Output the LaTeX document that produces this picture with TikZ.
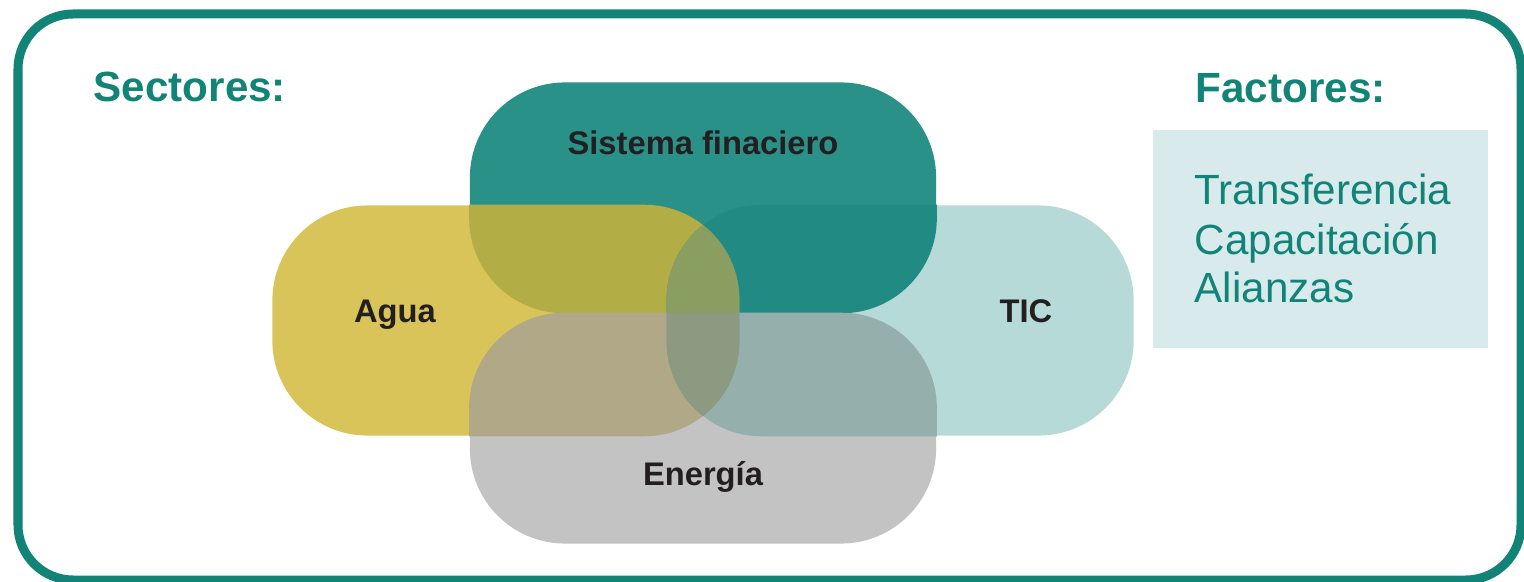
\documentclass[tikz,border=0pt]{standalone}
\usepackage{fontspec}
\setmainfont{Liberation Sans}
\usepackage{xcolor}
\usetikzlibrary{positioning}
\definecolor{tealline}{RGB}{18,131,119}
\definecolor{textdark}{RGB}{35,31,32}
\definecolor{sisteal}{RGB}{42,145,137}
\definecolor{aguayel}{RGB}{217,196,90}
\definecolor{ticblue}{RGB}{182,218,216}
\definecolor{enegray}{RGB}{195,195,195}
\definecolor{factbg}{RGB}{216,234,236}
% overlap colours
\definecolor{aguasis}{RGB}{178,173,69}
\definecolor{sistic}{RGB}{33,139,131}
\definecolor{aguatic}{RGB}{139,156,112}
\definecolor{aguaene}{RGB}{176,168,134}
\definecolor{ticene}{RGB}{149,175,172}
\definecolor{aguasistic}{RGB}{139,158,97}
\definecolor{aguaenetic}{RGB}{139,154,129}

\newcommand{\pillpath}[1]{(#1.south west) rectangle (#1.north east)}

\begin{document}
\begin{tikzpicture}[
    x=0.01cm, y=-0.01cm,
    pill/.style={draw=none, rounded corners=0.95cm, minimum width=4.66cm, minimum height=2.3cm, inner sep=0pt},
    pillfill/.style={rounded corners=0.95cm, fill=#1},
    sector/.style={font=\bfseries\fontsize{9.3}{11}\selectfont, text=textdark, anchor=base},
    heading/.style={font=\bfseries\fontsize{12}{14}\selectfont, text=tealline, anchor=base west, inner sep=0pt},
    factor/.style={font=\fontsize{12}{14}\selectfont, text=tealline, anchor=base west, inner sep=0pt}
]
\useasboundingbox (0,0) rectangle (1524,582);

% frame
\draw[tealline, line width=0.09cm, rounded corners=0.55cm] (18,14) rectangle (1521,580);

% sectors
\node[pill, fill=sisteal] (sis) at (703,197.5) {};
\node[pill, fill=aguayel] (agua) at (505.5,320.5) {};
\node[pill, fill=ticblue] (tic) at (900.5,320.5) {};
\node[pill, fill=enegray] (ene) at (703,428.5) {};

% overlaps
\begin{scope}
    \clip[rounded corners=0.95cm] \pillpath{sis};
    \fill[pillfill=aguasis] \pillpath{agua};
    \fill[pillfill=sistic] \pillpath{tic};
\end{scope}
\begin{scope}
    \clip[rounded corners=0.95cm] \pillpath{ene};
    \fill[pillfill=aguaene] \pillpath{agua};
    \fill[pillfill=ticene] \pillpath{tic};
\end{scope}
\begin{scope}
    \clip[rounded corners=0.95cm] \pillpath{agua};
    \fill[pillfill=aguatic] \pillpath{tic};
\end{scope}
\begin{scope}
    \clip[rounded corners=0.95cm] \pillpath{agua};
    \clip[rounded corners=0.95cm] \pillpath{tic};
    \fill[pillfill=aguasistic] \pillpath{sis};
    \fill[pillfill=aguaenetic] \pillpath{ene};
\end{scope}

\node[sector] (sistxt) at (703,155) {Sistema finaciero};
\node[sector] (aguatxt) at (395,323) {Agua};
\node[sector] (tictxt) at (1026,322) {TIC};
\node[sector] (enetxt) at (703,485) {Energía};

% headings
\node[heading] (sect) at (93,102) {Sectores:};
\node[heading] (fact) at (1195,103) {Factores:};

% factors
\node[fill=factbg, minimum width=3.35cm, minimum height=2.18cm, inner sep=0pt] (factbox) at (1320.5,239) {};
\node[factor] (f1) at (1194,205) {Transferencia};
\node[factor] (f2) at ([yshift=-0.49cm]f1.base west) {Capacitación};
\node[factor] (f3) at ([yshift=-0.48cm]f2.base west) {Alianzas};

\end{tikzpicture}
\end{document}
